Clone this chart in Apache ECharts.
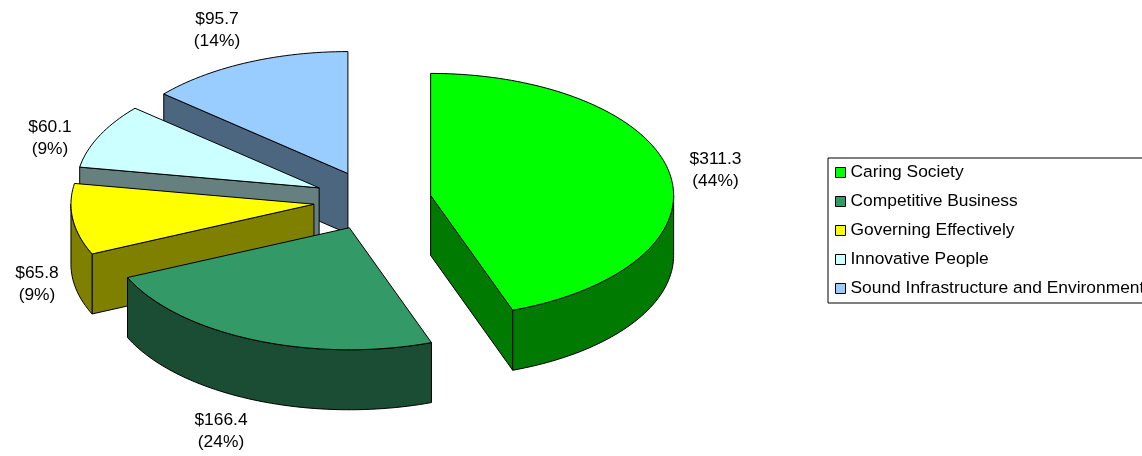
<!DOCTYPE html>
<html><head><meta charset="utf-8">
<style>html,body{margin:0;padding:0;background:#fff;overflow:hidden}#c{width:1142px;height:456px}</style>
<script src="https://cdn.jsdelivr.net/npm/echarts@6/dist/echarts.min.js"></script>
</head><body><div id="c"></div>
<script>
const categories = ['Caring Society','Competitive Business','Governing Effectively','Innovative People','Sound Infrastructure and Environment'];
const values = [311.3,166.4,65.8,60.1,95.7];
const percents = [44,24,9,9,14];
const topColors = ['#00FF00','#339966','#FFFF00','#CCFFFF','#99CCFF'];
const sideColors = ['#007A00','#1A4D33','#808000','#668080','#4D6680'];
const labelCenters = [[715.5,170],[221,431],[37,284],[50,138],[217,30]];
const paintOrder = [4,3,2,1,0];

const CX=372.5, CY=200.5, RX=243, RY=122, DEPTH=60, EXPLODE=0.2428;
const total = values.reduce((a,b)=>a+b,0);
const rad = d=>d*Math.PI/180;
let acc=0;
const starts = values.map(v=>{const s=acc; acc+=v; return s/total*360;});
const ends = values.map((v,i)=>starts[i]+v/total*360);

function pt(ax,ay,a,dy){return [ax+RX*Math.sin(rad(a)), ay-RY*Math.cos(rad(a))+(dy||0)];}
function arc(ax,ay,a0,a1,dy){
  const n=Math.max(2,Math.ceil(Math.abs(a1-a0)/1.5)),p=[];
  for(let k=0;k<=n;k++) p.push(pt(ax,ay,a0+(a1-a0)*k/n,dy));
  return p;
}
function poly(points,fill){
  return {type:'polygon',shape:{points:points},style:{fill:fill,stroke:'#000',lineWidth:1,lineJoin:'round'}};
}
function render(i){
  return function(params,api){
    const a0=starts[i],a1=ends[i],mid=(a0+a1)/2;
    const ax=CX+RX*EXPLODE*Math.sin(rad(mid)), ay=CY-RY*EXPLODE*Math.cos(rad(mid));
    const kids=[];
    const face=a=>{const p=pt(ax,ay,a);kids.push(poly([[ax,ay],p,[p[0],p[1]+DEPTH],[ax,ay+DEPTH]],sideColors[i]));};
    if(a0>=180) face(a0);
    if(a1<=180) face(a1);
    const w0=Math.max(a0,90),w1=Math.min(a1,270);
    if(w1>w0){
      const upper=arc(ax,ay,w0,w1,0),lower=arc(ax,ay,w1,w0,DEPTH);
      kids.push(poly(upper.concat(lower),sideColors[i]));
    }
    kids.push(poly([[ax,ay]].concat(arc(ax,ay,a0,a1,0)),topColors[i]));
    kids.push({type:'text',style:{x:labelCenters[i][0],y:labelCenters[i][1],
      text:'$'+api.value(0)+'\n('+percents[i]+'%)',textAlign:'center',textVerticalAlign:'middle',
      fill:'#000',font:'17.4px "Liberation Sans", Arial, sans-serif',lineHeight:22}});
    return {type:'group',children:kids};
  };
}
const chart=echarts.init(document.getElementById('c'),null,{renderer:'canvas'});
chart.setOption({
  animation:false,
  backgroundColor:'#fff',
  legend:{
    orient:'vertical',left:828,top:158,
    data:categories,
    icon:'rect',itemWidth:10,itemHeight:10,itemGap:12,
    padding:[6,4,6,7],
    borderColor:'#000',borderWidth:1,
    selectedMode:false,
    textStyle:{fontFamily:'"Liberation Sans", Arial, sans-serif',fontSize:17.4,color:'#000'},
    itemStyle:{borderColor:'#000',borderWidth:1}
  },
  series:paintOrder.map(i=>({
    type:'custom',name:categories[i],coordinateSystem:'none',
    renderItem:render(i),
    data:[[values[i]]],
    itemStyle:{color:topColors[i]},
    silent:true
  }))
});
</script></body></html>
